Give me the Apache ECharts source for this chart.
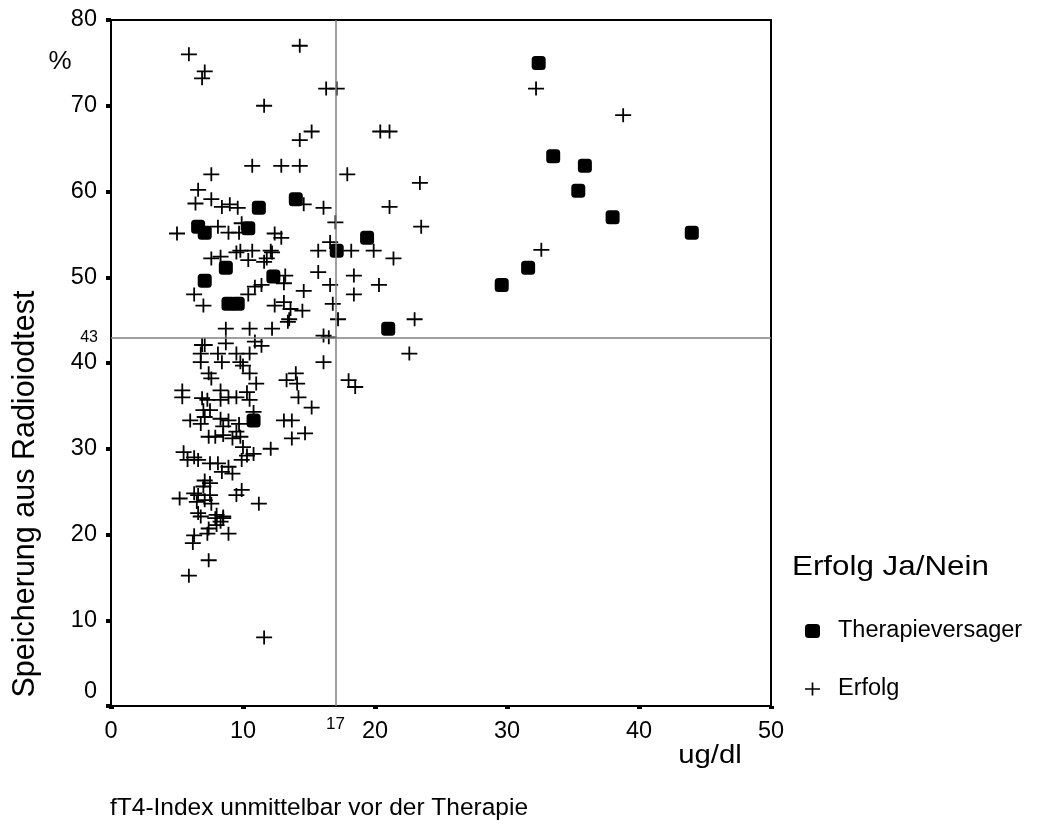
<!DOCTYPE html>
<html>
<head>
<meta charset="utf-8">
<title>fT4-Index und Speicherung</title>
<script src="https://cdn.jsdelivr.net/npm/echarts@6/dist/echarts.min.js"></script>
<style>
  html, body { margin: 0; padding: 0; background: #fff; }
  #chart { width: 1041px; height: 825px; }
</style>
</head>
<body>
<div id="chart"></div>
<script>
// Axis ranges and reference lines
const xRange = [0, 50];
const xStep = 10;
const yRange = [0, 80];
const yStep = 10;
const refX = 17;   // fT4 cut-off
const refY = 43;   // uptake cut-off

const seriesNames = ['Therapieversager', 'Erfolg'];

// [fT4-Index, Speicherung %]
const therapieversager = [
  [6.6, 55.9], [7.1, 55.2], [7.1, 49.6], [8.7, 51.1], [8.9, 46.9], [9.6, 46.9],
  [10.4, 55.7], [11.2, 58.1], [12.3, 50.1], [10.8, 33.3], [14.0, 59.1], [17.1, 53.1],
  [19.4, 54.6], [21.0, 44.0], [29.6, 49.1], [31.6, 51.1], [32.4, 75.0], [33.5, 64.1],
  [35.9, 63.0], [35.4, 60.1], [38.0, 57.0], [44.0, 55.2]
];

const erfolg = [
  // upper part
  [5.9, 76], [7.1, 74], [6.9, 73.2], [14.3, 77], [11.6, 70], [16.3, 72], [17.1, 72],
  [15.2, 67], [14.3, 66], [20.4, 67], [21.1, 67], [32.2, 72], [38.8, 68.9],
  [10.7, 63], [12.9, 63], [14.3, 63], [7.6, 62], [17.9, 62], [23.4, 61],
  [6.6, 60.2], [6.4, 58.6], [7.6, 59.1], [8.4, 58.2], [9.0, 58.5], [9.6, 58.1],
  [14.6, 58.5], [16.1, 58.1], [21.1, 58.2],
  [17.0, 56.4], [5.0, 55.1], [8.1, 55.9], [8.9, 55.2], [9.7, 55.2], [9.9, 56.3],
  [12.4, 55.1], [12.9, 54.6], [23.5, 55.9],
  [16.6, 54.1], [15.7, 53.1], [18.2, 53.1], [19.9, 53.1], [21.4, 52.2], [10.7, 53.1],
  [9.8, 53.1], [12.1, 53.1], [7.6, 52.2], [8.3, 52.4], [9.5, 52.9], [10.4, 52.0],
  [11.8, 52.2], [12.2, 52.9], [11.6, 51.8], [32.6, 53.2],
  [13.2, 50.2], [15.7, 50.6], [18.4, 50.2], [16.6, 49.1], [20.3, 49.1], [18.4, 48.0],
  [10.9, 48.9], [11.4, 49.1], [13.1, 49.3], [6.3, 48.0], [7.0, 46.7], [10.4, 48.0],
  [14.6, 48.4], [16.8, 46.9], [12.4, 46.7], [13.1, 47.1], [13.6, 46.3], [14.5, 46.1],
  [13.5, 45.1], [17.2, 45.1], [23.0, 45.1], [22.6, 41.1],
  [8.7, 44.0], [10.5, 44.0], [12.2, 44.0], [13.4, 44.8], [16.1, 43.2], [16.5, 43.0],
  [16.1, 40.1], [18.0, 38.0], [18.5, 37.2],
  // lower-left cluster
  [6.9, 42.1], [7.1, 42.1], [8.7, 42.3], [10.9, 42.5], [11.4, 42.0],
  [6.8, 41.1], [8.1, 41.1], [9.5, 41.1], [10.5, 41.1],
  [6.8, 40.1], [8.4, 40.1], [9.8, 40.1], [10.0, 39.7],
  [10.5, 38.8], [11.0, 37.6], [7.4, 38.8], [7.6, 38.2],
  [13.3, 38.0], [14.0, 38.8], [14.1, 37.6], [14.2, 36.0], [15.2, 34.8],
  [5.4, 36.8], [5.4, 36.0],
  [6.9, 35.9], [7.3, 35.7], [8.3, 36.8], [8.3, 35.7], [8.9, 36.0], [9.5, 36.0],
  [10.3, 36.6], [10.5, 35.7],
  [7.0, 34.5], [7.5, 34.5], [7.1, 33.7], [10.8, 34.3],
  [6.0, 33.3], [6.8, 32.9], [8.3, 33.5], [8.9, 33.3], [9.7, 32.9], [8.5, 32.6],
  [13.1, 33.3], [13.7, 33.3], [14.7, 31.8], [13.7, 31.2],
  [7.4, 31.4], [7.9, 31.4], [8.5, 31.6], [9.2, 31.2], [9.8, 31.4], [9.5, 32.0],
  [10.0, 30.2], [10.3, 29.2], [9.9, 28.7], [10.8, 29.4], [12.1, 30.0],
  [5.5, 29.6], [5.8, 28.7], [6.6, 28.7], [6.3, 29.0],
  [7.5, 28.3], [8.1, 28.3], [8.4, 27.3], [9.2, 27.1], [8.9, 27.9],
  [7.1, 26.3], [7.5, 26.0], [7.0, 25.6],
  [5.2, 24.2], [6.3, 24.8], [6.6, 24.6], [7.1, 24.0], [7.5, 24.6], [9.5, 24.6],
  [9.9, 25.2], [11.2, 23.6],
  [6.6, 22.5], [8.0, 22.3], [8.5, 22.1],
  [6.5, 23.8], [7.6, 23.6], [6.8, 22.1], [7.9, 21.9], [8.3, 21.5], [8.5, 21.9],
  [8.0, 21.1], [7.4, 20.7], [8.9, 20.1], [6.3, 19.9], [6.2, 19.0], [7.3, 20.1],
  [7.4, 17.0], [5.9, 15.2], [11.6, 8.0]
];

const FONT = '"Liberation Sans", Arial, Helvetica, sans-serif';
const PLUS = 'path://M0,6.1H16V7.9H0Z M7.1,0H8.9V14H7.1Z';

const chart = echarts.init(document.getElementById('chart'), null, { renderer: 'canvas' });

chart.setOption({
  backgroundColor: '#ffffff',
  animation: false,
  textStyle: { fontFamily: FONT, color: '#000' },
  grid: {
    left: 111, top: 20, width: 660, height: 686,
    show: true, borderColor: '#000', borderWidth: 2, backgroundColor: 'transparent'
  },
  xAxis: {
    type: 'value',
    min: xRange[0], max: xRange[1], interval: xStep,
    offset: 3,
    axisLine: { show: false },
    axisTick: { show: true, length: 3, lineStyle: { color: '#000', width: 5 } },
    splitLine: { show: false },
    axisLabel: { color: '#000', fontFamily: FONT, fontSize: 23.5, margin: 11 }
  },
  yAxis: {
    type: 'value',
    min: yRange[0], max: yRange[1], interval: yStep,
    axisLine: { show: false },
    axisTick: { show: true, length: 5, lineStyle: { color: '#000', width: 4 } },
    splitLine: { show: false },
    axisLabel: {
      color: '#000', fontFamily: FONT, fontSize: 23.5, margin: 14,
      formatter: v => (v === 0 ? '{z|0}' : String(v)),
      rich: { z: { fontFamily: FONT, fontSize: 23.5, color: '#000', padding: [0, 0, 28, 0] } }
    }
  },
  legend: {
    orient: 'vertical',
    left: 800, top: 614,
    itemWidth: 15, itemHeight: 14, itemGap: 34,
    data: seriesNames,
    selectedMode: false,
    textStyle: { fontFamily: FONT, fontSize: 23.5, color: '#000', lineHeight: 24, padding: [0, 0, 0, 13] }
  },
  graphic: [
    { type: 'text', x: 60, y: 62, style: { text: '%', font: '26px ' + FONT, fill: '#000', align: 'center', verticalAlign: 'middle' } },
    { type: 'text', x: 710, y: 756, scaleX: 1.15, style: { text: 'ug/dl', font: '25.5px ' + FONT, fill: '#000', align: 'center', verticalAlign: 'middle' } },
    { type: 'text', x: 110, y: 808, style: { text: 'fT4-Index unmittelbar vor der Therapie', font: '24.5px ' + FONT, fill: '#000', align: 'left', verticalAlign: 'middle' } },
    { type: 'text', x: 26, y: 494, rotation: Math.PI / 2, style: { text: 'Speicherung aus Radioiodtest', font: '30.5px ' + FONT, fill: '#000', align: 'center', verticalAlign: 'middle' } },
    { type: 'text', x: 792, y: 567, scaleX: 1.14, style: { text: 'Erfolg Ja/Nein', font: '27.5px ' + FONT, fill: '#000', align: 'left', verticalAlign: 'middle' } }
  ],
  series: [
    {
      name: seriesNames[1],
      type: 'scatter',
      symbol: PLUS,
      symbolSize: [16, 14],
      itemStyle: { color: '#000', opacity: 1 },
      data: erfolg,
      z: 2,
      markLine: {
        silent: true,
        symbol: 'none',
        animation: false,
        lineStyle: { color: '#808080', width: 1.5, type: 'solid' },
        label: { show: true, position: 'start', color: '#000', fontFamily: FONT },
        data: [
          { xAxis: refX, label: { formatter: String(refX), fontSize: 17, distance: 10 } },
          { yAxis: refY, label: { formatter: String(refY), fontSize: 16, distance: 13 } }
        ]
      }
    },
    {
      name: seriesNames[0],
      type: 'scatter',
      symbol: 'roundRect',
      symbolSize: 14,
      itemStyle: { color: '#000', opacity: 1 },
      data: therapieversager,
      z: 3
    }
  ]
});
</script>
</body>
</html>
